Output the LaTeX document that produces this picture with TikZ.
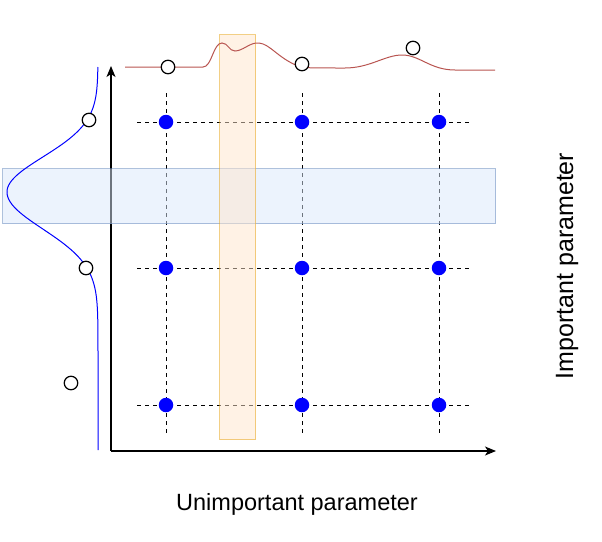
\documentclass[tikz,border=0pt]{standalone}
\usepackage{fontspec}
\setmainfont{Liberation Sans}
\usetikzlibrary{arrows.meta}
\definecolor{redc}{HTML}{B85450}
\definecolor{bluefill}{HTML}{DAE8FC}
\definecolor{bluestroke}{HTML}{6C8EBF}
\definecolor{orfill}{HTML}{FFE6CC}
\definecolor{orstroke}{HTML}{E8A820}
\begin{document}
\begin{tikzpicture}[x=1pt,y=-1pt,
  dot/.style={circle,fill=blue,inner sep=0pt,minimum size=14.5pt},
  odot/.style={circle,draw=black,fill=white,line width=1.2pt,inner sep=0pt,minimum size=13.5pt},
  grid/.style={dashed,dash pattern=on 4pt off 4pt,line width=1pt},
  axis/.style={line width=1.2pt,-{Stealth[length=11pt,width=9pt,inset=3pt]}},
  band/.style={line width=1pt,fill opacity=0.5,draw opacity=0.55},
  lab/.style={inner sep=0pt}]
\useasboundingbox (0,0) rectangle (602,541);
% axes
\coordinate (o) at (111,451);
\coordinate (ytip) at (111,66);
\coordinate (xtip) at (496,451);
\draw[axis] (o) -- (ytip);
\draw[axis] (o) -- (xtip);
% grid dots
\foreach \c/\x in {1/166,2/302,3/439}{
  \foreach \r/\y in {1/122,2/268,3/405}{
    \coordinate (g\c\r) at (\x,\y);
  }
  \coordinate (vt\c) at (\x,93);
  \coordinate (vb\c) at (\x,436);
  \draw[grid] (vt\c) -- (vb\c);
}
\foreach \r/\y in {1/122,2/268,3/405}{
  \coordinate (hl\r) at (137,\y);
  \coordinate (hr\r) at (472,\y);
  \draw[grid] (hl\r) -- (hr\r);
}
% bands
\node[band,draw=bluestroke,fill=bluefill,minimum width=493pt,minimum height=55pt,inner sep=0pt,anchor=north west] (bband) at (2,168) {};
\node[band,draw=orstroke,fill=orfill,minimum width=36pt,minimum height=405pt,inner sep=0pt,anchor=north west] (oband) at (219,34) {};
% dots
\foreach \c in {1,2,3}{\foreach \r in {1,2,3}{\node[dot] (d\c\r) at (g\c\r) {};}}
% red curve
\draw[redc,line width=1pt] (125,67) -- (203,67)
  .. controls (212,67) and (213,43) .. (222,43)
  .. controls (228,43) and (229,51) .. (235,51)
  .. controls (243,51) and (250,42) .. (259,43)
  .. controls (270,44) and (278,58) .. (298,66)
  .. controls (302,68) and (310,68) .. (345,68)
  .. controls (370,68) and (385,55) .. (402,55)
  .. controls (420,55) and (430,70) .. (455,70)
  -- (495,70);
% blue gaussian
\draw[blue,line width=1pt,smooth,samples=80] plot[domain=67:192] ({98-91*exp(-((\x-192)/35)^2/2)},\x);
\draw[blue,line width=1pt,smooth,samples=100] plot[domain=192:450] ({98-91*exp(-((\x-192)/37)^2/2)},\x);
% open circles
\node[odot] (c1) at (168,67) {};
\node[odot] (c2) at (302,64) {};
\node[odot] (c3) at (413,48) {};
\node[odot] (c4) at (89,120) {};
\node[odot] (c5) at (86,268) {};
\node[odot] (c6) at (71,383) {};
% labels
\node[lab,font=\fontsize{23.5}{27}\selectfont] (xl) at (297,504) {Unimportant parameter};
\node[lab,font=\fontsize{25}{29}\selectfont,rotate=90] (yl) at (567,266) {Important parameter};
\end{tikzpicture}
\end{document}
